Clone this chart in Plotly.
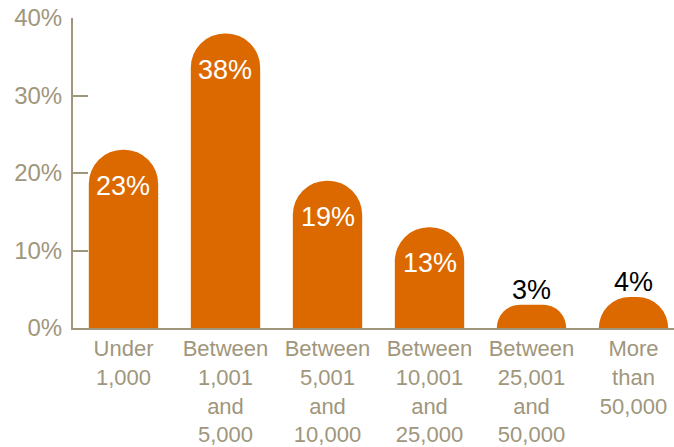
import plotly.graph_objects as go

categories = ["Under<br>1,000", "Between<br>1,001<br>and<br>5,000", "Between<br>5,001<br>and<br>10,000",
              "Between<br>10,001<br>and<br>25,000", "Between<br>25,001<br>and<br>50,000", "More<br>than<br>50,000"]
values = [23, 38, 19, 13, 3, 4]
labels = ["23%", "38%", "19%", "13%", "3%", "4%"]
inside = [True, True, True, True, False, False]
yticks = [0, 10, 20, 30, 40]
yticklabels = ["0%", "10%", "20%", "30%", "40%"]

ORANGE = "#DB6900"
TAN = "#A0967C"
FONT = "Liberation Sans, Arial, Helvetica, sans-serif"

fig = go.Figure()
fig.add_trace(go.Bar(
    x=list(range(len(categories))), y=values, width=0.68,
    marker=dict(color=ORANGE, cornerradius="50%", line=dict(width=0)),
    hoverinfo="skip",
))

for i, (v, lab, ins) in enumerate(zip(values, labels, inside)):
    fig.add_annotation(
        x=i, y=v, text=lab, showarrow=False, xref="x", yref="y",
        yanchor="middle", yshift=-36 if ins else 15,
        font=dict(family=FONT, size=27, color="white" if ins else "black"),
    )

fig.update_layout(
    width=674, height=447,
    margin=dict(l=73, r=0, t=18, b=117),
    paper_bgcolor="white", plot_bgcolor="white",
    showlegend=False, bargap=0.3,
    font=dict(family=FONT, size=22, color=TAN),
    xaxis=dict(
        range=[-0.495, 5.397], tickmode="array",
        tickvals=list(range(len(categories))), ticktext=categories,
        showline=True, linecolor=TAN, linewidth=2, ticks="",
        showgrid=False, zeroline=False, fixedrange=True,
        tickfont=dict(family=FONT, size=22, color=TAN),
    ),
    yaxis=dict(
        range=[0, 40], tickmode="array", tickvals=yticks, ticktext=yticklabels,
        showline=True, linecolor=TAN, linewidth=2, ticks="inside", ticklen=15,
        tickwidth=2, tickcolor=TAN, showgrid=False, zeroline=False,
        tickfont=dict(family=FONT, size=24, color=TAN), ticklabelstandoff=4,
    ),
)

fig.write_html("out.html")
